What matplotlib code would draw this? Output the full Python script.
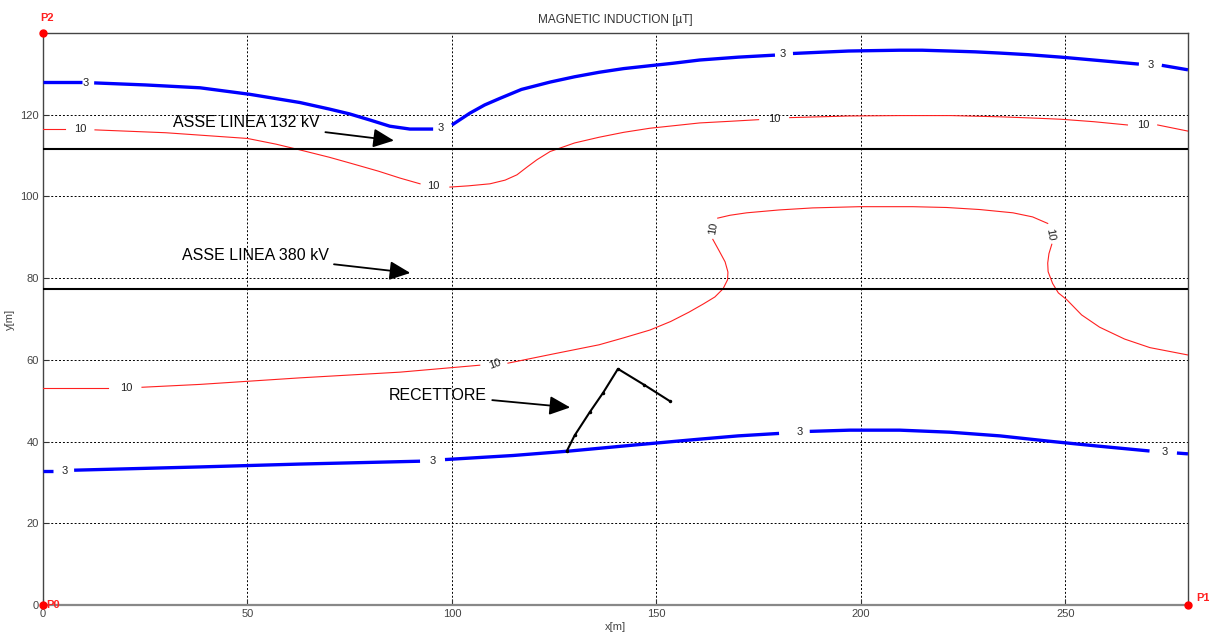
import matplotlib
matplotlib.use("Agg")
import matplotlib.pyplot as plt

plt.rcParams['font.family'] = ['Liberation Sans', 'DejaVu Sans']

# --- iso-lines of magnetic induction (each level split where its label sits) ---
blue_top_x = [[0, 9.6], [12.5, 25.0, 38.4, 50.6, 62.8, 70.0, 75.0, 80.0, 84.8, 89.7, 95.4],
              [100.0, 104.4, 108.0, 111.7, 117.0, 124.0, 130.0, 136.0, 142.0, 148.4, 154.0,
               160.6, 170.0, 179.0],
              [183.4, 190.0, 197.0, 203.0, 209.5, 215.0, 221.8, 228.0, 234.0, 241.0, 249.0,
               258.0, 268.0],
              [273.6, 280.0]]
blue_top_y = [[128.0, 128.0], [127.8, 127.3, 126.6, 125.0, 123.0, 121.4, 120.2, 118.7, 117.2,
                               116.5, 116.5],
              [117.5, 120.4, 122.4, 124.0, 126.2, 128.0, 129.3, 130.4, 131.3, 132.0, 132.6,
               133.4, 134.1, 134.6],
              [135.0, 135.3, 135.6, 135.7, 135.8, 135.8, 135.6, 135.4, 135.1, 134.7, 134.1,
               133.3, 132.4],
              [132.1, 131.0]]

red_top_x = [[0, 5.4], [12.7, 30.0, 50.0, 57.0, 62.8, 70.0, 75.0, 82.0, 87.3, 92.2],
             [99.5, 104.0, 109.3, 113.0, 115.9, 118.5, 120.8, 124.0, 130.0, 136.0, 142.0,
              148.4, 155.0, 160.6, 168.0, 175.0],
             [182.6, 190.0, 197.0, 209.5, 222.0, 234.0, 242.0, 249.0, 257.0, 265.2],
             [272.6, 280.0]]
red_top_y = [[116.5, 116.5], [116.3, 115.6, 114.2, 112.8, 111.4, 109.6, 108.2, 106.2, 104.5,
                              103.1],
             [102.3, 102.6, 103.1, 104.0, 105.3, 107.3, 109.0, 111.0, 113.1, 114.5, 115.7,
              116.7, 117.4, 118.0, 118.4, 118.8],
             [119.3, 119.5, 119.7, 119.8, 119.8, 119.5, 119.2, 118.9, 118.3, 117.5],
             [117.5, 116.0]]

red_mid_x = [[0, 15.9], [24.2, 38.4, 62.8, 87.3, 106.8],
             [113.7, 125.0, 136.0, 142.0, 148.4, 153.5, 158.0, 161.5, 164.3, 166.3, 167.4,
              167.5, 166.8, 165.4, 163.8],
             [165.0, 168.0, 172.1, 180.0, 188.2, 199.7, 212.7, 221.0, 229.1, 237.2, 242.0,
              245.7],
             [246.7, 246.0, 245.7, 245.8, 246.9, 248.3, 250.4, 254.0, 258.4, 264.5, 270.7,
              280.0]]
red_mid_y = [[53.1, 53.1], [53.3, 54.0, 55.6, 57.0, 58.7],
             [59.2, 61.5, 63.7, 65.4, 67.3, 69.4, 71.7, 73.7, 75.4, 77.4, 79.6, 81.5, 84.0,
              86.6, 89.5],
             [94.7, 95.4, 96.0, 96.7, 97.2, 97.5, 97.5, 97.3, 96.8, 96.0, 95.0, 93.4],
             [88.3, 86.0, 83.7, 81.6, 78.7, 76.4, 74.7, 71.0, 68.0, 65.1, 63.0, 61.2]]

blue_bot_x = [[0, 2.5], [7.6, 38.4, 62.8, 92.2],
              [98.3, 115.0, 128.9, 145.0, 160.6, 170.0, 180.0],
              [187.5, 197.3, 209.5, 221.8, 234.0, 246.0, 258.0, 270.6],
              [277.3, 280.0]]
blue_bot_y = [[32.8, 32.8], [33.0, 33.8, 34.5, 35.2],
              [35.6, 36.6, 37.7, 39.2, 40.6, 41.4, 42.0],
              [42.5, 42.8, 42.8, 42.3, 41.4, 40.1, 38.9, 37.7],
              [37.2, 37.0]]

# contour labels: x, y, text, rotation
blue_labels = [(10.5, 127.8, '3', 0), (97.2, 116.8, '3', 0), (181.0, 134.8, '3', 0),
               (270.8, 132.2, '3', 0), (5.2, 32.8, '3', 0), (95.3, 35.3, '3', 0),
               (185.0, 42.3, '3', 0), (274.3, 37.5, '3', 0)]
red_labels = [(9.0, 116.4, '10', 0), (95.4, 102.6, '10', 0), (178.8, 119.0, '10', 0),
              (269.0, 117.4, '10', 0), (20.3, 53.1, '10', 0), (110.5, 58.9, '10', 20),
              (164.0, 92.3, '10', 80), (246.2, 90.6, '10', -80)]

# power line axes (horizontal)
line_132_y = 111.6
line_380_y = 77.3

# receptor polyline
rec_x = [128.1, 130.0, 133.7, 137.0, 140.6, 147.0, 153.3]
rec_y = [37.7, 41.5, 47.2, 52.0, 57.8, 53.9, 49.9]

# reference points
points = {'P0': (0, 0), 'P1': (280, 0), 'P2': (0, 140)}

xticks = [0, 50, 100, 150, 200, 250]
yticks = [0, 20, 40, 60, 80, 100, 120]

fig = plt.figure(figsize=(12.09, 6.32), dpi=100)
ax = fig.add_axes([0.0356, 0.0427, 0.947, 0.905])
ax.set_xlim(0, 280)
ax.set_ylim(0, 140)
ax.set_xticks(xticks)
ax.set_yticks(yticks)
ax.tick_params(direction='in', length=4, labelsize=8, colors='#333333',
               labelcolor='#444444', pad=3)
ax.grid(True, color='black', linestyle=(0, (2, 2)), linewidth=0.7)
for s in ax.spines.values():
    s.set_color('#444444')
    s.set_linewidth(1.0)
ax.spines['bottom'].set_color('#888888')
ax.spines['bottom'].set_linewidth(1.6)

for xs, ys in zip(blue_top_x + blue_bot_x, blue_top_y + blue_bot_y):
    ax.plot(xs, ys, color='#0000ff', linewidth=2.4, solid_capstyle='butt', zorder=3)
for xs, ys in zip(red_top_x + red_mid_x, red_top_y + red_mid_y):
    ax.plot(xs, ys, color='#ff2020', linewidth=0.8, zorder=3)

for x, y, t, r in blue_labels + red_labels:
    ax.text(x, y, t, fontsize=8, ha='center', va='center', rotation=r,
            color='#222222', zorder=4)

ax.axhline(line_132_y, color='black', linewidth=1.5, zorder=3)
ax.axhline(line_380_y, color='black', linewidth=1.5, zorder=3)

ax.plot(rec_x, rec_y, color='black', linewidth=1.5, marker='.', markersize=3, zorder=4)

arrow = dict(arrowstyle='-|>,head_length=1.1,head_width=0.5', color='black', lw=1.3)
ax.annotate('ASSE LINEA 132 kV', xy=(86.5, 113.6), xytext=(67.7, 118.1),
            fontsize=11.5, ha='right', va='center', arrowprops=arrow, zorder=5)
ax.annotate('ASSE LINEA 380 kV', xy=(90.5, 81.2), xytext=(69.8, 85.6),
            fontsize=11.5, ha='right', va='center', arrowprops=arrow, zorder=5)
ax.annotate('RECETTORE', xy=(129.6, 48.3), xytext=(108.5, 51.4),
            fontsize=11.5, ha='right', va='center', arrowprops=arrow, zorder=5)

for name, (px, py) in points.items():
    ax.plot(px, py, 'o', color='#ff0000', markersize=5, clip_on=False, zorder=6)
ax.text(0.9, 0, 'P0', color='#ff2020', fontsize=8, fontweight='bold', va='center', ha='left',
        clip_on=False, zorder=6)
ax.text(282.0, 1.7, 'P1', color='#ff2020', fontsize=8, fontweight='bold', va='center',
        ha='left', clip_on=False, zorder=6)
ax.text(1.0, 143.8, 'P2', color='#ff2020', fontsize=8, fontweight='bold', va='center',
        ha='center', clip_on=False, zorder=6)

ax.set_title('MAGNETIC INDUCTION [\u00b5T]', fontsize=8.5, color='#333333', pad=7)
ax.set_xlabel('x[m]', fontsize=8, color='#444444', labelpad=2)
ax.set_ylabel('y[m]', fontsize=8, color='#444444', labelpad=4)

fig.savefig('out.png', dpi=100)
